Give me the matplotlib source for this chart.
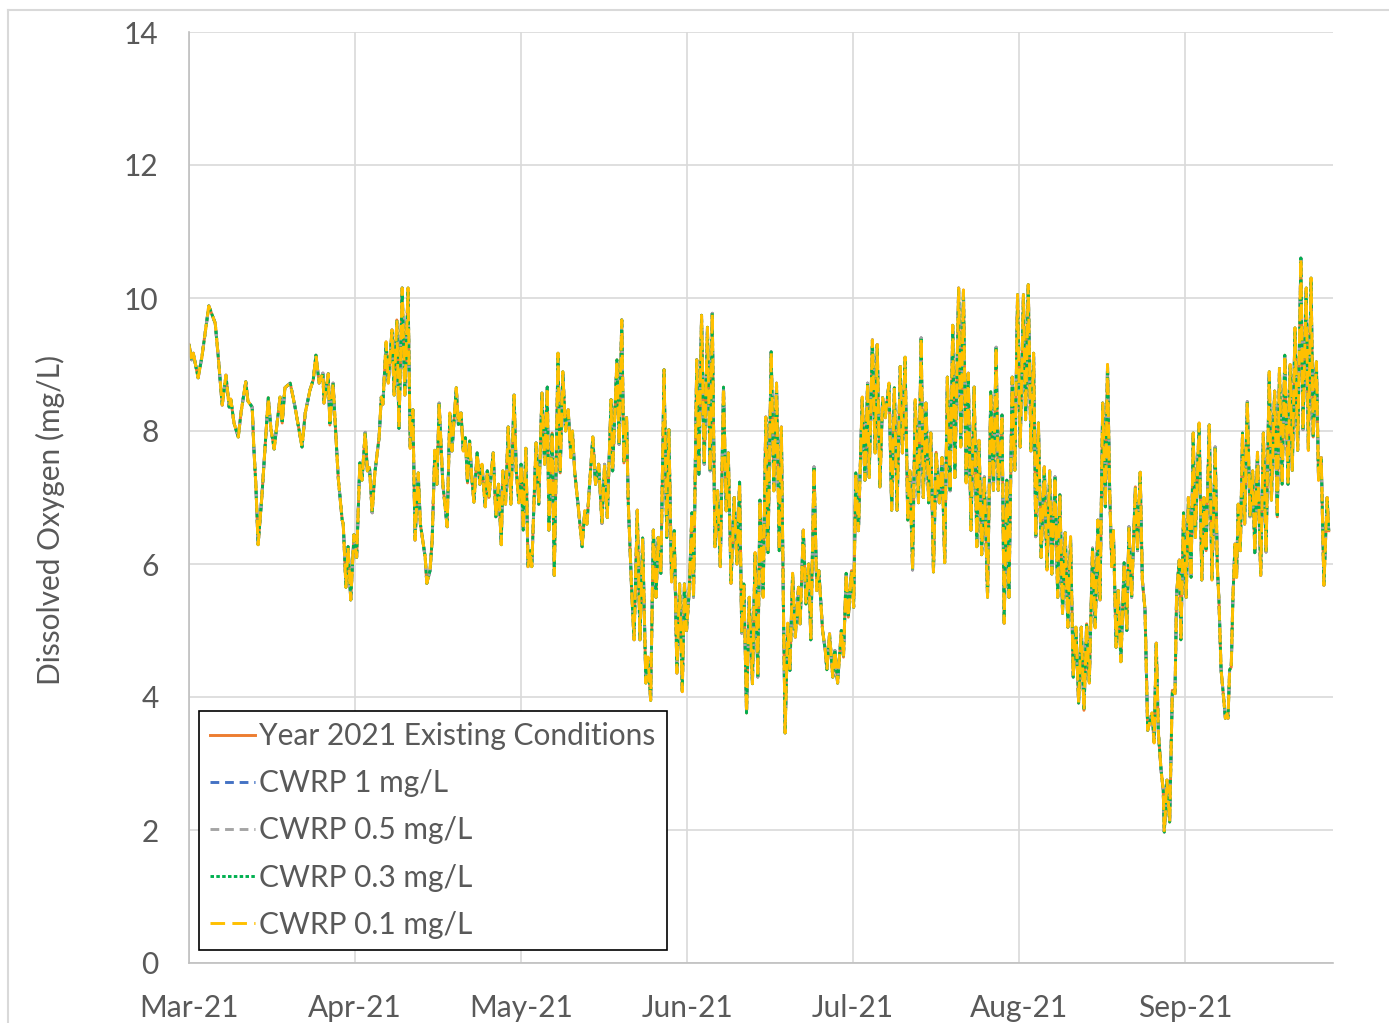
import pandas as pd
import matplotlib
matplotlib.use("Agg")
import matplotlib.pyplot as plt
import matplotlib.dates as mdates
from matplotlib.lines import Line2D

plt.rcParams['font.family'] = ['Lato', 'DejaVu Sans']

# days since 2021-03-01 and dissolved oxygen (mg/L)
day = [
    0.0, 0.5, 0.8, 1.7, 2.4, 3.0, 3.7, 4.9, 5.4, 6.2, 6.9, 7.5, 7.8, 8.4, 9.2, 9.7,
    10.6, 11.0, 11.8, 12.1, 12.5, 12.9, 13.6, 14.2, 14.8, 15.3, 15.9, 17.0, 17.4, 17.9,
    18.9, 19.8, 21.1, 21.7, 22.6, 23.2, 23.7, 24.3, 25.0, 25.2, 26.0, 26.3, 26.9, 27.6,
    27.9, 28.6, 28.8, 29.3, 29.7, 30.2, 30.8, 31.3, 31.9, 32.3, 32.9, 33.3, 33.7, 34.2,
    34.7, 35.5, 35.9, 36.2, 36.8, 37.2, 37.9, 38.3, 38.8, 39.2, 39.8, 40.3, 40.9, 41.3,
    41.8, 42.2, 42.8, 43.2, 44.1, 44.4, 45.0, 45.4, 45.9, 46.3, 46.7, 47.4, 48.2, 48.7,
    49.1, 49.9, 50.3, 50.8, 51.2, 51.6, 52.0, 52.4, 52.8, 53.2, 53.8, 54.3, 54.7, 55.3,
    55.7, 56.0, 56.8, 57.3, 57.8, 58.3, 58.6, 59.1, 59.6, 60.1, 60.7, 61.1, 61.6, 62.0,
    62.4, 62.9, 63.3, 63.7, 64.0, 64.8, 65.3, 65.9, 66.4, 66.9, 67.2, 67.8, 68.2, 68.9,
    69.3, 69.8, 70.3, 70.8, 71.3, 71.6, 72.0, 72.6, 73.4, 73.9, 74.3, 74.8, 75.4, 75.9,
    76.5, 77.1, 77.6, 78.1, 78.8, 79.1, 79.9, 80.3, 80.8, 81.2, 81.7, 82.0, 82.7, 83.1,
    83.7, 84.2, 84.7, 85.3, 85.7, 86.2, 86.7, 87.2, 87.6, 88.1, 88.7, 89.2, 89.6, 90.1,
    90.6, 91.1, 91.6, 92.1, 92.5, 92.9, 93.4, 93.9, 94.2, 94.8, 95.2, 95.7, 96.2, 96.8,
    97.3, 97.7, 98.2, 98.7, 99.2, 99.8, 100.3, 100.7, 101.2, 101.8, 102.3, 102.8, 103.2,
    103.6, 104.1, 104.6, 105.2, 105.7, 106.2, 106.6, 107.2, 107.7, 108.1, 108.7, 109.2,
    109.7, 110.2, 110.6, 111.0, 111.3, 111.8, 112.2, 112.7, 113.2, 113.8, 114.1, 114.7,
    115.2, 115.7, 116.1, 116.7, 117.2, 117.6, 118.3, 118.8, 119.1, 119.6, 120.2, 120.6,
    121.1, 121.8, 122.2, 122.7, 123.1, 123.7, 124.1, 124.5, 125.0, 125.7, 126.2, 126.7,
    127.0, 127.6, 128.1, 128.5, 129.0, 129.5, 130.0, 130.7, 131.2, 131.7, 132.2, 132.8,
    133.2, 133.7, 134.2, 134.6, 135.1, 135.6, 136.2, 136.7, 137.1, 137.6, 138.1, 138.5,
    139.0, 139.5, 140.1, 140.6, 141.1, 141.6, 142.1, 142.6, 143.0, 143.7, 144.1, 144.6,
    145.1, 145.5, 146.0, 146.6, 147.1, 147.5, 148.0, 148.5, 149.1, 149.7, 150.2, 150.7,
    151.1, 151.8, 152.2, 152.7, 153.1, 153.7, 154.2, 154.7, 155.2, 155.8, 156.2, 156.7,
    157.2, 157.7, 158.1, 158.6, 159.1, 159.7, 160.2, 160.7, 161.1, 161.7, 162.2, 162.6,
    163.1, 163.6, 164.1, 164.6, 165.1, 165.6, 166.1, 166.6, 167.1, 167.6, 168.1, 168.7,
    169.2, 169.7, 170.1, 170.6, 171.1, 171.5, 171.9, 172.3, 172.6, 173.1, 173.5, 174.0,
    174.6, 175.1, 175.5, 176.0, 176.7, 177.1, 177.6, 178.0, 178.5, 179.0, 179.8, 180.2,
    180.6, 181.0, 181.5, 181.9, 182.1, 182.6, 183.1, 183.6, 184.1, 184.4, 184.9, 185.2,
    185.7, 186.2, 186.6, 187.1, 187.5, 187.9, 188.6, 189.1, 189.5, 189.9, 190.5, 191.0,
    191.6, 192.0, 192.3, 192.7, 193.1, 193.5, 193.8, 194.0, 194.3, 194.6, 194.9, 195.3,
    195.6, 195.9, 196.3, 196.7, 197.1, 197.6, 198.1, 198.6, 199.0, 199.5, 200.1, 200.6,
    201.1, 201.7, 202.1, 202.7, 203.2, 203.6, 204.1, 204.6, 205.2, 205.6, 206.0, 206.5,
    207.0, 207.6, 208.0, 208.6, 209.0, 209.5, 209.9, 210.5, 210.9, 211.4, 211.9, 212.5,
    212.8,
]
existing = [
    9.30, 9.07, 9.17, 8.80, 9.11, 9.47, 9.88, 9.62, 9.17, 8.39, 8.84, 8.36, 8.48, 8.12, 7.91, 8.27,
    8.74, 8.45, 8.36, 7.76, 7.16, 6.29, 7.01, 7.76, 8.50, 8.03, 7.73, 8.51, 8.12, 8.65,
    8.72, 8.36, 7.76, 8.27, 8.62, 8.77, 9.14, 8.72, 8.87, 8.42, 8.86, 8.09, 8.72, 7.67,
    7.26, 6.66, 6.60, 5.65, 6.26, 5.46, 6.44, 6.10, 7.52, 7.26, 7.98, 7.40, 7.45, 6.77,
    7.37, 7.91, 8.51, 8.40, 9.34, 8.72, 9.52, 8.54, 9.67, 8.04, 10.15, 8.54, 10.15, 7.74,
    8.32, 6.36, 7.37, 6.60, 6.10, 5.71, 5.90, 6.36, 7.71, 7.20, 8.42, 7.20, 6.56, 8.27,
    7.70, 8.65, 8.10, 8.27, 7.70, 7.90, 7.22, 7.85, 7.30, 6.93, 7.67, 7.20, 7.50, 6.86,
    7.40, 7.00, 7.67, 6.71, 7.20, 6.29, 7.40, 6.90, 8.06, 6.90, 8.54, 7.40, 6.92, 7.50,
    6.51, 7.74, 5.96, 6.20, 5.96, 7.82, 6.90, 8.57, 7.50, 8.66, 6.51, 7.97, 5.83, 9.17,
    7.37, 8.89, 8.00, 8.32, 7.60, 8.00, 7.40, 6.92, 6.26, 6.80, 6.60, 7.20, 7.91, 7.20,
    7.50, 6.61, 7.50, 6.70, 8.47, 7.40, 9.07, 7.80, 9.67, 7.52, 8.20, 6.96, 5.50, 4.86,
    6.81, 4.86, 6.39, 4.21, 4.60, 3.95, 6.51, 5.50, 6.40, 5.86, 8.92, 6.40, 8.02, 5.73,
    6.50, 4.36, 5.70, 4.08, 5.70, 5.00, 5.60, 6.77, 5.50, 9.07, 7.35, 9.74, 7.50, 9.56,
    7.40, 9.77, 6.26, 7.10, 5.96, 8.66, 6.80, 7.67, 5.71, 7.00, 6.00, 7.23, 4.96,
    5.70, 3.76, 5.50, 4.20, 6.17, 4.30, 6.96, 5.50, 8.21, 6.17, 9.19, 7.10,
    8.72, 6.20, 8.06, 5.26, 3.46, 5.11, 4.40, 5.86, 4.90, 5.65, 5.10, 6.51,
    5.40, 6.00, 4.86, 7.46, 5.60, 5.90, 5.00, 4.70, 4.41, 4.95, 4.30, 4.70,
    4.21, 5.00, 4.60, 5.86, 5.20, 5.90, 5.35, 7.37, 6.50, 8.51, 7.26, 8.72,
    7.30, 9.37, 7.67, 9.30, 7.16, 8.50, 8.20, 8.72, 6.81, 8.65, 6.81, 8.97,
    7.67, 9.11, 6.66, 7.40, 5.91, 8.47, 6.92, 9.40, 7.00, 8.42, 6.92, 7.97,
    5.88, 7.68, 6.92, 7.60, 6.02, 8.81, 7.10, 9.59, 7.30, 10.15, 7.76, 10.12,
    7.22, 8.87, 6.51, 8.66, 6.26, 7.86, 6.14, 7.31, 5.50, 8.59, 7.11, 9.26,
    7.11, 8.24, 5.11, 7.26, 5.50, 8.81, 7.41, 10.05, 7.76, 10.05, 8.17, 10.20,
    7.70, 9.17, 6.41, 8.12, 6.10, 7.46, 5.91, 7.40, 5.85, 7.31, 5.50, 7.04,
    5.26, 6.47, 5.05, 6.41, 4.30, 5.05, 3.91, 5.05, 3.80, 5.10, 4.21, 6.24,
    5.04, 6.66, 5.46, 8.42, 6.86, 9.00, 7.11, 5.96, 6.50, 4.75, 5.60, 4.53,
    6.02, 5.00, 6.56, 5.50, 7.16, 6.20, 7.38, 5.76, 5.31, 3.50, 3.76, 3.31,
    4.81, 3.46, 2.90, 2.60, 1.97, 2.75, 2.12, 4.10, 4.05, 5.56, 6.06, 4.86,
    6.77, 5.50, 7.00, 5.80, 7.97, 6.40, 8.12, 5.76, 7.00, 6.20, 8.09, 5.76,
    7.76, 5.96, 5.46, 4.41, 4.06, 3.68, 3.75, 3.68, 4.41, 4.45, 5.46, 6.30,
    5.80, 6.90, 6.20, 7.97, 6.60, 8.44, 6.71, 7.40, 6.17, 7.68, 5.83, 7.97,
    6.18, 8.89, 6.96, 8.60, 6.71, 8.94, 7.20, 9.14, 7.20, 9.00, 7.41, 9.55,
    7.71, 10.60, 8.02, 10.15, 7.71, 10.30, 7.91, 9.04, 7.26, 7.60, 5.68, 7.00,
    6.50,
]
# the scenario runs overlap the existing-conditions curve at this scale
cwrp_1 = existing
cwrp_05 = existing
cwrp_03 = existing
cwrp_01 = existing

labels = ['Year 2021 Existing Conditions', 'CWRP 1 mg/L', 'CWRP 0.5 mg/L',
          'CWRP 0.3 mg/L', 'CWRP 0.1 mg/L']

start = pd.Timestamp('2021-03-01')
t = start + pd.to_timedelta(day, unit='D')

fig = plt.figure(figsize=(13.89, 10.23), dpi=100)
ax = fig.add_axes([189 / 1389, 1 - 963 / 1023, 1144 / 1389, 931 / 1023])

lw = 2.1
ax.plot(t, existing, color='#ED7D31', lw=lw, label=labels[0])
ax.plot(t, cwrp_1, color='#4472C4', lw=lw, dashes=(3, 2), label=labels[1])
ax.plot(t, cwrp_05, color='#A5A5A5', lw=lw, dashes=(3, 2), label=labels[2])
ax.plot(t, cwrp_03, color='#00B050', lw=lw, dashes=(1.2, 0.8), label=labels[3])
ax.plot(t, cwrp_01, color='#FFC000', lw=lw, dashes=(5, 2.5), label=labels[4])

ax.set_ylim(0, 14)
ax.set_yticks(range(0, 15, 2))
ax.set_xlim(start, start + pd.Timedelta(days=213.6))
ax.set_xticks([start + pd.Timedelta(days=31 * k) for k in range(7)])
ax.xaxis.set_major_formatter(mdates.DateFormatter('%b-%y'))

ax.grid(True, color='#D9D9D9', lw=1.2)
ax.set_axisbelow(True)
for s in ['top', 'right']:
    ax.spines[s].set_visible(False)
for s in ['left', 'bottom']:
    ax.spines[s].set_color('#BFBFBF')
    ax.spines[s].set_linewidth(1.2)
ax.tick_params(axis='both', length=0, labelsize=21.5, colors='#595959')
ax.tick_params(axis='y', pad=22)
ax.tick_params(axis='x', pad=22)

fig.text(50 / 1389, 1 - 520 / 1023, 'Dissolved Oxygen (mg/L)', rotation=90,
         ha='center', va='center', fontsize=21.5, color='#595959')

leg = ax.legend(loc='lower left', bbox_to_anchor=(0.0087, 0.014), borderaxespad=0,
                fontsize=21.5, handlelength=1.5, handletextpad=0.14, labelspacing=0.64,
                borderpad=0.38, fancybox=False, framealpha=1)
leg.get_frame().set_edgecolor('black')
leg.get_frame().set_linewidth(1.2)
for txt in leg.get_texts():
    txt.set_color('#595959')

# chart-area border
fig.add_artist(Line2D([8 / 1389, 8 / 1389], [0, 1 - 10 / 1023], transform=fig.transFigure,
                      color='#D9D9D9', lw=1.5))
fig.add_artist(Line2D([8 / 1389, 1], [1 - 10 / 1023, 1 - 10 / 1023], transform=fig.transFigure,
                      color='#D9D9D9', lw=1.5))

fig.savefig('out.png', dpi=100)
